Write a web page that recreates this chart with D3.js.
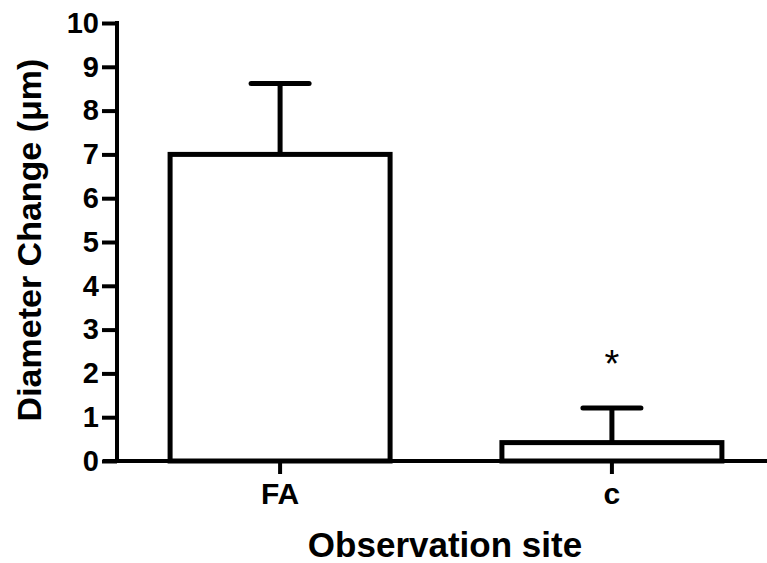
<!DOCTYPE html>
<html>
<head>
<meta charset="utf-8">
<script src="https://cdn.jsdelivr.net/npm/d3@7"></script>
<style>
  body { margin: 0; background: #fff; }
  svg { display: block; font-family: "Liberation Sans", Arial, sans-serif; font-weight: bold; }
</style>
</head>
<body>
<div id="chart"></div>
<script>
// data
var sites = ["FA", "c"]
var means = [7.0, 0.42]
var errors = [1.62, 0.79]
var marks = ["", "*"]
var yTicks = [0, 1, 2, 3, 4, 5, 6, 7, 8, 9, 10]

var width = 767,
    height = 563,
    plotLeft = 117,
    plotBottom = 461,
    plotTop = 23

var svg = d3.select("#chart")
    .append("svg")
        .attr("width", width)
        .attr("height", height)

var y = d3.scaleLinear().domain([0, 10]).range([plotBottom, plotTop])
var x = d3.scaleBand().domain(sites).range([plotLeft, 775]).paddingInner(0.337).paddingOuter(0.16)

// y axis
var yAxis = svg.append("g")
    .attr("transform", "translate(" + plotLeft + ",0)")
    .call(d3.axisLeft(y).tickValues(yTicks).tickSize(15).tickPadding(3).tickSizeOuter(0))
yAxis.select(".domain").attr("stroke-width", 4)
    .attr("d", "M0," + (plotBottom + 2) + "V" + (plotTop - 2))
yAxis.selectAll(".tick line").attr("stroke-width", 4)
yAxis.selectAll("text").style("font-size", "29px").attr("fill", "#000")

// x axis
var xAxis = svg.append("g")
    .attr("transform", "translate(0," + plotBottom + ")")
    .call(d3.axisBottom(x).tickSize(13).tickPadding(9).tickSizeOuter(0))
xAxis.select(".domain").attr("stroke-width", 4).attr("d", "M" + (plotLeft - 14) + ",0H" + width)
xAxis.selectAll(".tick line").attr("stroke-width", 4)
xAxis.selectAll("text").style("font-size", "30px").attr("fill", "#000")

// bars
svg.selectAll("rect.bar")
    .data(sites)
    .enter()
    .append("rect")
        .attr("class", "bar")
        .attr("x", function(d) { return x(d) })
        .attr("y", function(d, i) { return y(means[i]) })
        .attr("width", x.bandwidth())
        .attr("height", function(d, i) { return plotBottom - y(means[i]) })
        .attr("fill", "white")
        .attr("stroke", "black")
        .attr("stroke-width", 5)

// error bars (upper only)
var eb = svg.selectAll("g.err")
    .data(sites)
    .enter()
    .append("g")
        .attr("class", "err")
eb.append("line")
    .attr("x1", function(d) { return x(d) + x.bandwidth() / 2 })
    .attr("x2", function(d) { return x(d) + x.bandwidth() / 2 })
    .attr("y1", function(d, i) { return y(means[i]) })
    .attr("y2", function(d, i) { return y(means[i] + errors[i]) })
    .attr("stroke", "black")
    .attr("stroke-width", 5)
eb.append("line")
    .attr("x1", function(d) { return x(d) + x.bandwidth() / 2 - 29 })
    .attr("x2", function(d) { return x(d) + x.bandwidth() / 2 + 29 })
    .attr("y1", function(d, i) { return y(means[i] + errors[i]) })
    .attr("y2", function(d, i) { return y(means[i] + errors[i]) })
    .attr("stroke", "black")
    .attr("stroke-width", 5)
    .attr("stroke-linecap", "round")

// significance marks
svg.selectAll("text.mark")
    .data(sites)
    .enter()
    .append("text")
        .attr("class", "mark")
        .attr("x", function(d) { return x(d) + x.bandwidth() / 2 })
        .attr("y", function(d, i) { return y(means[i] + errors[i]) - 31 })
        .attr("text-anchor", "middle")
        .style("font-size", "38px")
        .style("font-weight", "normal")
        .text(function(d, i) { return marks[i] })

// axis titles
svg.append("text")
    .attr("x", 445)
    .attr("y", 557)
    .attr("text-anchor", "middle")
    .style("font-size", "35px")
    .text("Observation site")

svg.append("text")
    .attr("transform", "translate(41,240) rotate(-90)")
    .attr("text-anchor", "middle")
    .style("font-size", "34px")
    .text("Diameter Change (\u03bcm)")
</script>
</body>
</html>
